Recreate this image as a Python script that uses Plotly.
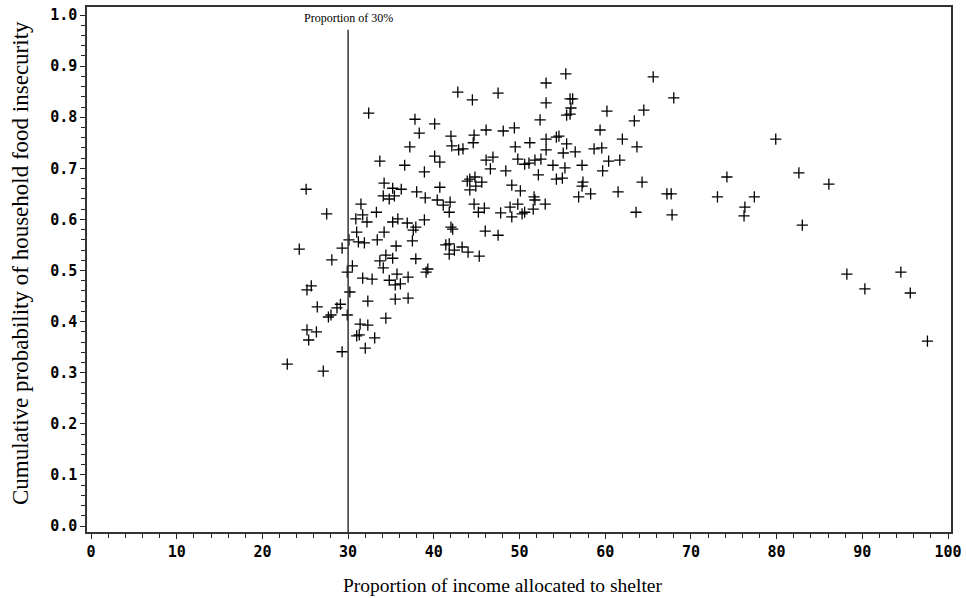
import plotly.graph_objects as go

# Proportion of income allocated to shelter (%)
shelter_pct = [
    22.9, 24.3, 25.1, 25.7, 25.2, 25.2, 25.4, 26.3, 26.4, 27.1,
    27.5, 27.7, 28.0, 28.1, 28.7, 29.1, 29.3, 29.3, 29.9, 29.9,
    30.1, 30.2, 30.5, 30.9, 31.7, 31.5, 32.2, 31.0, 34.2, 33.4,
    31.2, 31.9, 34.4, 33.7, 34.1, 35.2, 31.7, 32.8, 34.8, 32.3,
    32.3, 31.4, 31.0, 31.3, 33.1, 32.0, 34.4, 32.4, 33.7, 34.2,
    34.1, 34.8, 35.4, 35.2, 36.2, 33.3, 35.5, 37.0, 35.2, 35.8,
    35.6, 35.7, 35.5, 36.1, 36.6, 37.2, 37.8, 38.3, 38.9, 40.1,
    40.1, 40.7, 38.0, 39.0, 40.7, 40.4, 41.1, 41.9, 41.8, 38.9,
    36.9, 37.6, 37.9, 37.5, 37.9, 39.1, 39.3, 37.0, 41.4, 41.8,
    41.8, 42.4, 43.3, 44.0, 45.3, 42.0, 42.2, 46.0, 47.5, 42.0,
    42.1, 42.9, 43.4, 42.8, 44.5, 47.5, 44.6, 44.7, 46.1, 48.1,
    49.4, 49.5, 51.2, 53.1, 53.1, 52.4, 53.1, 53.1, 55.4, 55.9,
    56.2, 56.0, 55.5, 55.9, 60.2, 54.3, 54.6, 55.5, 55.1, 56.5,
    58.7, 59.6, 59.4, 62.0, 63.7, 63.4, 64.5, 65.6, 68.0, 46.1,
    46.9, 46.6, 48.4, 49.8, 50.6, 51.1, 51.8, 52.5, 53.9, 55.3,
    57.3, 60.4, 61.7, 59.7, 52.2, 54.3, 55.0, 57.3, 57.4, 56.9,
    58.3, 61.5, 64.3, 67.2, 67.7, 63.6, 67.8, 43.9, 44.2, 44.8,
    45.6, 44.2, 44.9, 44.7, 45.2, 45.9, 49.1, 50.1, 47.8, 48.9,
    49.1, 49.8, 50.3, 50.6, 51.6, 51.7, 51.8, 53.0, 79.9, 74.2,
    82.6, 86.1, 73.1, 77.4, 76.3, 76.2, 83.0, 88.2, 94.5, 90.3,
    95.6, 97.6,
]

# Cumulative probability of household food insecurity
food_insecurity_prob = [
    0.317, 0.542, 0.659, 0.470, 0.462, 0.384, 0.364, 0.380, 0.429, 0.303,
    0.611, 0.409, 0.413, 0.521, 0.427, 0.434, 0.544, 0.341, 0.497, 0.413,
    0.560, 0.458, 0.509, 0.601, 0.609, 0.630, 0.595, 0.575, 0.575, 0.560,
    0.556, 0.554, 0.530, 0.519, 0.505, 0.524, 0.485, 0.483, 0.481, 0.440,
    0.393, 0.395, 0.372, 0.374, 0.368, 0.348, 0.407, 0.808, 0.714, 0.671,
    0.646, 0.640, 0.646, 0.661, 0.659, 0.614, 0.444, 0.446, 0.595, 0.601,
    0.548, 0.493, 0.472, 0.474, 0.706, 0.742, 0.796, 0.769, 0.693, 0.787,
    0.724, 0.712, 0.654, 0.642, 0.663, 0.638, 0.628, 0.634, 0.614, 0.599,
    0.593, 0.579, 0.585, 0.558, 0.523, 0.497, 0.503, 0.487, 0.550, 0.552,
    0.532, 0.540, 0.546, 0.536, 0.528, 0.585, 0.581, 0.577, 0.569, 0.763,
    0.744, 0.736, 0.738, 0.849, 0.834, 0.847, 0.750, 0.765, 0.775, 0.773,
    0.779, 0.742, 0.750, 0.757, 0.736, 0.795, 0.867, 0.828, 0.885, 0.836,
    0.836, 0.818, 0.804, 0.806, 0.812, 0.761, 0.763, 0.748, 0.730, 0.732,
    0.738, 0.740, 0.775, 0.757, 0.742, 0.793, 0.814, 0.879, 0.838, 0.716,
    0.722, 0.699, 0.695, 0.718, 0.708, 0.710, 0.716, 0.718, 0.706, 0.701,
    0.706, 0.714, 0.716, 0.695, 0.687, 0.679, 0.681, 0.665, 0.673, 0.644,
    0.650, 0.654, 0.673, 0.650, 0.650, 0.614, 0.609, 0.675, 0.679, 0.683,
    0.673, 0.658, 0.665, 0.630, 0.614, 0.622, 0.667, 0.656, 0.613, 0.624,
    0.605, 0.630, 0.611, 0.614, 0.620, 0.644, 0.638, 0.630, 0.757, 0.683,
    0.691, 0.669, 0.644, 0.644, 0.624, 0.607, 0.589, 0.493, 0.497, 0.464,
    0.456, 0.362,
]

x_tick_vals = [0, 10, 20, 30, 40, 50, 60, 70, 80, 90, 100]
y_tick_vals = [0.0, 0.1, 0.2, 0.3, 0.4, 0.5, 0.6, 0.7, 0.8, 0.9, 1.0]
threshold_pct = 30
threshold_label = "Proportion of 30%"
x_title = "Proportion of income allocated to shelter"
y_title = "Cumulative probability of household food insecurity"

W, H = 966, 598
ML, MR, MT, MB = 87, 15, 7, 66
PW, PH = W - ML - MR, H - MT - MB

fig = go.Figure()
fig.add_trace(go.Scatter(
    x=shelter_pct, y=food_insecurity_prob, mode="markers",
    marker=dict(symbol="cross-thin-open", size=8, color="black",
                line=dict(color="black", width=1.3)),
    showlegend=False, hoverinfo="x+y",
))

fig.add_shape(type="line", x0=threshold_pct, x1=threshold_pct,
              y0=-0.0117, y1=0.971, xref="x", yref="y",
              line=dict(color="#333333", width=1.5))
fig.add_annotation(x=threshold_pct, y=0.994, xref="x", yref="y",
                   text=threshold_label, showarrow=False,
                   font=dict(family="Liberation Serif", size=12, color="black"),
                   xanchor="center", yanchor="middle")

tick_font = dict(family="DejaVu Sans Mono", size=15, color="black", weight="bold")

fig.update_xaxes(
    range=[-0.47, 100.35], tickvals=x_tick_vals, ticktext=[str(v) for v in x_tick_vals],
    ticks="outside", ticklen=5, tickwidth=1.2, tickcolor="#222",
    minor=dict(dtick=2, ticks="outside", ticklen=4, tickcolor="#222", tickwidth=1),
    showline=True, linecolor="#333", linewidth=1.5, mirror=True,
    showgrid=False, zeroline=False, tickfont=tick_font, automargin=False,
)
fig.update_yaxes(
    range=[-0.0117, 1.0157], tickvals=y_tick_vals, ticktext=[f"{v:.1f}" for v in y_tick_vals],
    ticks="outside", ticklen=5, tickwidth=1.2, tickcolor="#222",
    minor=dict(dtick=0.02, ticks="outside", ticklen=4, tickcolor="#222", tickwidth=1),
    showline=True, linecolor="#333", linewidth=1.5, mirror=True,
    showgrid=False, zeroline=False, tickfont=tick_font, automargin=False,
)

fig.add_annotation(text=x_title,
                   x=(502 - ML) / PW, y=(H - MB - 585) / PH,
                   xref="paper", yref="paper", showarrow=False,
                   xanchor="center", yanchor="middle",
                   font=dict(family="Liberation Serif", size=19.5, color="black"))
fig.add_annotation(text=y_title,
                   x=(20 - ML) / PW, y=(H - MB - 263) / PH,
                   xref="paper", yref="paper", showarrow=False,
                   xanchor="center", yanchor="middle", textangle=-90,
                   font=dict(family="Liberation Serif", size=23, color="black"))

fig.update_layout(
    width=W, height=H,
    margin=dict(l=ML, r=MR, t=MT, b=MB, autoexpand=False),
    plot_bgcolor="white", paper_bgcolor="white",
)

fig.write_html("out.html",
               config={"displayModeBar": False},
               post_script="document.body.style.margin='0';document.body.style.overflow='hidden';")
